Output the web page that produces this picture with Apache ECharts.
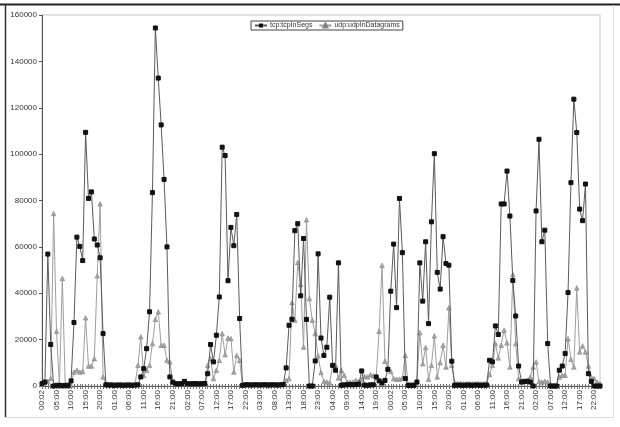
<!DOCTYPE html>
<html>
<head>
<meta charset="utf-8">
<script src="https://cdn.jsdelivr.net/npm/echarts@6/dist/echarts.min.js"></script>
<style>html,body{margin:0;padding:0;background:#fff;}#c{width:620px;height:427px;}</style>
</head>
<body>
<div id="c"></div>
<script>
// Hourly samples; a label is shown every 5 hours. Each capture day starts at 00:02.
const categories = [];
for (let i = 0; i < 193; i++) {
  const base = i >= 120 ? 120 : 0;
  const h = (i - base) % 24;
  categories.push((i === 0 || i === 120) ? '00:02' : (h < 10 ? '0' + h : '' + h) + ':00');
}

const tcpInSegs = [
  1000, 1700, 56900, 17900, 0, 300, 300, 200, 300, 300,
  2200, 27400, 64200, 60200, 54100, 109400, 80900, 83700, 63400, 60800,
  55300, 22600, 500, 400, 400, 300, 400, 400, 300, 400,
  400, 300, 400, 500, 3900, 7500, 16100, 32000, 83400, 154400,
  132800, 112600, 89100, 60000, 3900, 1700, 1000, 900, 1000, 2000,
  1000, 900, 1000, 1000, 900, 1000, 1100, 5300, 17900, 10400,
  21900, 38400, 103000, 99400, 45400, 68400, 60500, 74000, 29100, 300,
  500, 500, 400, 500, 500, 400, 500, 500, 400, 500,
  500, 400, 500, 600, 7800, 26200, 28800, 67000, 70000, 38900,
  63600, 28700, 0, 0, 10800, 57000, 20700, 13200, 16700, 38300,
  8900, 6800, 53100, 300, 500, 500, 600, 500, 600, 800,
  6500, 400, 300, 500, 500, 3900, 2200, 1300, 2400, 7200,
  40900, 61200, 33800, 80900, 57500, 3200, 300, 300, 300, 1700,
  53100, 36600, 62200, 26900, 70800, 100200, 49000, 41800, 64400, 52800,
  52100, 10700, 300, 400, 400, 300, 400, 400, 300, 400,
  400, 300, 400, 400, 11100, 10400, 25900, 22200, 78500, 78500,
  92700, 73300, 45500, 30200, 8600, 1700, 2000, 2000, 1700, 0,
  75500, 106400, 62200, 67200, 18300, 0, 0, 0, 6800, 8600,
  14000, 40300, 87700, 123700, 109300, 76300, 71300, 87100, 5300, 2000,
  0, 0, 0
];

const udpInDatagrams = [
  600, 1700, 2000, 3200, 74400, 23600, 0, 46400, 0, 0,
  300, 6000, 6800, 6000, 6300, 29400, 8600, 8600, 11800, 47500,
  78600, 3900, 700, 700, 800, 700, 700, 800, 700, 700,
  800, 700, 700, 8900, 21200, 4600, 6800, 8900, 18300, 28800,
  32000, 17600, 17600, 11100, 10400, 1700, 1000, 1100, 1000, 1200,
  1000, 1000, 1100, 1000, 1000, 1100, 1000, 8900, 11800, 3200,
  6800, 11100, 22600, 13500, 20700, 20400, 6000, 13200, 11100, 300,
  700, 700, 800, 700, 700, 800, 700, 700, 800, 700,
  700, 800, 700, 700, 2400, 3200, 36000, 28400, 53300, 43800,
  16800, 71700, 37700, 28400, 22600, 13000, 5800, 2000, 1700, 1400,
  9200, 8900, 3500, 6800, 4600, 1700, 1700, 1700, 2400, 2000,
  2900, 4200, 3900, 4900, 4400, 4300, 23600, 52100, 10700, 7500,
  6300, 3200, 2900, 2900, 3500, 13200, 600, 600, 700, 2000,
  23000, 9600, 16600, 2900, 8900, 21600, 3900, 10100, 17600, 8200,
  33800, 8900, 1400, 1000, 1100, 1000, 1000, 1100, 1000, 1000,
  1100, 1000, 1000, 1100, 5000, 8900, 18300, 12100, 17600, 24100,
  18600, 8200, 48100, 18300, 3200, 2000, 2000, 2400, 3900, 8200,
  10400, 2000, 1700, 2000, 1700, 600, 0, 300, 3900, 4600,
  4600, 20400, 11500, 8200, 42300, 14700, 17300, 14700, 8600, 3900,
  3200, 1700, 1000
];

const yTicks = [0, 20000, 40000, 60000, 80000, 100000, 120000, 140000, 160000];

const FONT = 'Liberation Sans';
const chart = echarts.init(document.getElementById('c'), null, {renderer: 'canvas'});
chart.setOption({
  animation: false,
  backgroundColor: '#ffffff',
  textStyle: {fontFamily: FONT},
  graphic: [
    {type: 'line', shape: {x1: 0, y1: 4.5, x2: 620, y2: 4.5}, style: {stroke: '#222', lineWidth: 2}},
    {type: 'line', shape: {x1: 5.5, y1: 4, x2: 5.5, y2: 417}, style: {stroke: '#333', lineWidth: 1.5}},
    {type: 'line', shape: {x1: 5, y1: 417.5, x2: 613, y2: 417.5}, style: {stroke: '#d8d8d8', lineWidth: 1}},
    {type: 'line', shape: {x1: 613.5, y1: 5, x2: 613.5, y2: 418}, style: {stroke: '#e4e4e4', lineWidth: 1}}
  ],
  legend: {
    left: 251, top: 21,
    itemWidth: 12, itemHeight: 5, itemGap: 6,
    padding: [1, 3, 1, 3],
    borderColor: '#444', borderWidth: 1,
    backgroundColor: '#fff',
    textStyle: {fontSize: 7, color: '#333', fontFamily: FONT, padding: [0, 0, 0, -2]},
    data: ['tcp:tcpInSegs', 'udp:udpInDatagrams']
  },
  grid: {left: 42, right: 20, top: 15, bottom: 41, show: true, borderColor: '#c4c4c4', borderWidth: 1, containLabel: false},
  xAxis: [{
    type: 'category',
    data: categories,
    boundaryGap: false,
    axisLine: {lineStyle: {color: '#555', width: 1}},
    axisTick: {show: true, interval: 0, length: 3, lineStyle: {color: '#777'}},
    axisLabel: {interval: 4, rotate: 90, fontSize: 8, color: '#333', margin: 4, fontFamily: FONT},
    splitLine: {show: false}
  }, {
    type: 'category',
    data: categories,
    boundaryGap: false,
    position: 'bottom',
    axisLine: {show: false},
    axisTick: {show: true, inside: true, interval: 0, length: 2, lineStyle: {color: '#777'}},
    axisLabel: {show: false},
    splitLine: {show: false}
  }],
  yAxis: {
    type: 'value',
    min: yTicks[0], max: yTicks[yTicks.length - 1], interval: 20000,
    axisLine: {show: true, lineStyle: {color: '#555'}},
    axisTick: {show: true, length: 3, lineStyle: {color: '#555'}},
    axisLabel: {fontSize: 8, color: '#333', margin: 5, fontFamily: FONT, formatter: v => String(v)},
    splitLine: {show: false}
  },
  series: [{
    name: 'tcp:tcpInSegs',
    type: 'line',
    data: tcpInSegs,
    showAllSymbol: true,
    symbol: 'rect', symbolSize: 4,
    itemStyle: {color: '#111', borderColor: '#111'},
    lineStyle: {color: '#5a5a5a', width: 1},
    z: 3
  }, {
    name: 'udp:udpInDatagrams',
    type: 'line',
    data: udpInDatagrams,
    showAllSymbol: true,
    symbol: 'triangle', symbolSize: 4.5,
    itemStyle: {color: '#a8a8a8', borderColor: '#808080', borderWidth: 0.6},
    lineStyle: {color: '#9e9e9e', width: 1},
    z: 2
  }]
});
</script>
</body>
</html>
